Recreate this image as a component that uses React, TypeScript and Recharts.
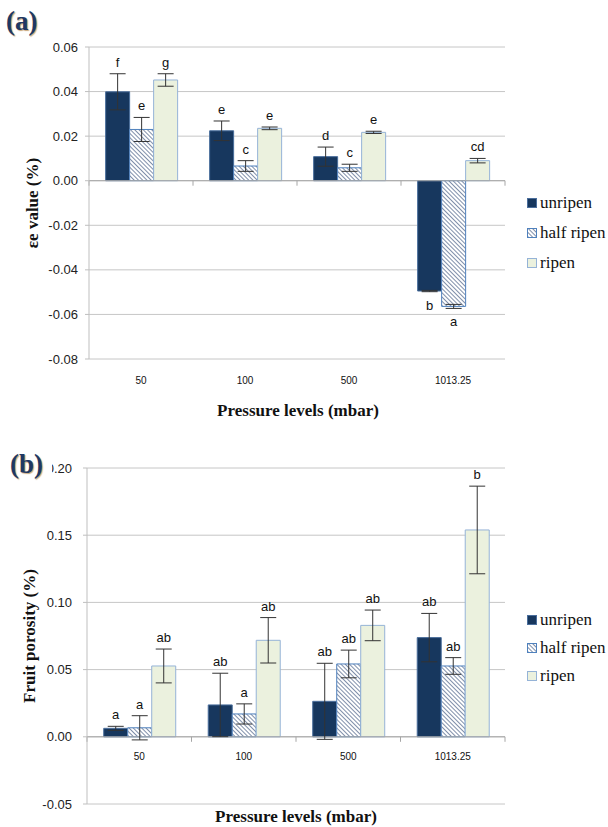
import { Bar, BarChart, CartesianGrid, ErrorBar, LabelList, ReferenceLine, XAxis, YAxis } from 'recharts';

const PRESSURES = ['50', '100', '500', '1013.25'];
const GROUPS = ['unripen', 'half ripen', 'ripen'];

// (a) εe value (%)
const STRAIN_UNRIPEN = [0.0399, 0.0224, 0.0108, -0.0495];
const STRAIN_UNRIPEN_ERR = [0.0081, 0.0044, 0.0043, 0.0003];
const STRAIN_UNRIPEN_TAGS = ['f', 'e', 'd', 'b'];
const STRAIN_HALF = [0.023, 0.0066, 0.0058, -0.0564];
const STRAIN_HALF_ERR = [0.0054, 0.0024, 0.0016, 0.0009];
const STRAIN_HALF_TAGS = ['e', 'c', 'c', 'a'];
const STRAIN_RIPEN = [0.0452, 0.0235, 0.0217, 0.009];
const STRAIN_RIPEN_ERR = [0.0028, 0.0006, 0.0005, 0.001];
const STRAIN_RIPEN_TAGS = ['g', 'e', 'e', 'cd'];
const STRAIN_TICKS = [-0.08, -0.06, -0.04, -0.02, 0, 0.02, 0.04, 0.06];

// (b) fruit porosity (%)
const POROSITY_UNRIPEN = [0.0063, 0.0237, 0.0264, 0.0738];
const POROSITY_UNRIPEN_ERR = [0.0015, 0.0236, 0.0283, 0.018];
const POROSITY_UNRIPEN_TAGS = ['a', 'ab', 'ab', 'ab'];
const POROSITY_HALF = [0.0067, 0.017, 0.0542, 0.0527];
const POROSITY_HALF_ERR = [0.009, 0.0075, 0.0103, 0.0062];
const POROSITY_HALF_TAGS = ['a', 'a', 'ab', 'ab'];
const POROSITY_RIPEN = [0.0527, 0.0718, 0.0829, 0.1539];
const POROSITY_RIPEN_ERR = [0.0126, 0.0169, 0.0114, 0.0326];
const POROSITY_RIPEN_TAGS = ['ab', 'ab', 'ab', 'b'];
const POROSITY_TICKS = [-0.05, 0, 0.05, 0.1, 0.15, 0.2];

const UNRIPEN_FILL = '#17375e';
const UNRIPEN_STROKE = '#4a6e9c';
const HALF_STROKE = '#4f81bd';
const RIPEN_FILL = '#ebf1de';
const RIPEN_STROKE = '#95b3d7';
const GRID = '#c6c6c6';
const SANS = '"Liberation Sans", Arial, sans-serif';
const SERIF = '"Liberation Serif", "Times New Roman", serif';

function buildRows(u: number[], ue: number[], h: number[], he: number[], r: number[], re: number[]) {
  return PRESSURES.map((p, i) => ({
    pressure: p,
    unripen: u[i],
    unripenErr: ue[i],
    half: h[i],
    halfErr: he[i],
    ripen: r[i],
    ripenErr: re[i]
  }));
}

const strainRows = buildRows(STRAIN_UNRIPEN, STRAIN_UNRIPEN_ERR, STRAIN_HALF, STRAIN_HALF_ERR, STRAIN_RIPEN, STRAIN_RIPEN_ERR);
const porosityRows = buildRows(
  POROSITY_UNRIPEN,
  POROSITY_UNRIPEN_ERR,
  POROSITY_HALF,
  POROSITY_HALF_ERR,
  POROSITY_RIPEN,
  POROSITY_RIPEN_ERR
);

// letter above the error bar (or below it for negative bars)
function tagRenderer(values: number[], errors: number[], tags: string[]) {
  return (props: any) => {
    const i = props.index;
    const vb = props.viewBox || props;
    const { x, y, width, height } = vb;
    const v = values[i];
    if (v === undefined) return null;
    const pxPerUnit = Math.abs(height) / Math.max(Math.abs(v), 1e-9);
    const errPx = errors[i] * pxPerUnit;
    const cx = x + width / 2;
    const top = Math.min(y, y + height);
    const bottom = Math.max(y, y + height);
    const ty = v >= 0 ? top - errPx - 7 : bottom + errPx + 18;
    return (
      <text x={cx} y={ty} textAnchor="middle" fontFamily={SANS} fontSize={13} fill="#111">
        {tags[i]}
      </text>
    );
  };
}

// zero line with Excel-style category tick marks
function zeroAxis(props: any) {
  const { x1, y1, x2 } = props;
  const step = (x2 - x1) / PRESSURES.length;
  return (
    <g>
      <line x1={x1} y1={y1} x2={x2} y2={y1} stroke="#a6a6a6" strokeWidth={1} />
      {[0, 1, 2, 3, 4].map((k) => (
        <line key={k} x1={x1 + k * step} y1={y1} x2={x1 + k * step} y2={y1 + 5} stroke="#a6a6a6" strokeWidth={1} />
      ))}
    </g>
  );
}

function categoryTick(shift: number) {
  return (props: any) => (
    <text x={props.x} y={props.y + shift} textAnchor="middle" fontFamily={SANS} fontSize={10} fill="#111">
      {props.payload.value}
    </text>
  );
}

function Swatch({ kind, patternId }: { kind: number; patternId: string }) {
  const fill = kind === 0 ? UNRIPEN_FILL : kind === 1 ? `url(#${patternId})` : RIPEN_FILL;
  const stroke = kind === 0 ? UNRIPEN_STROKE : kind === 1 ? HALF_STROKE : RIPEN_STROKE;
  return (
    <svg width={10} height={10} style={{ display: 'block' }}>
      <rect x={0.5} y={0.5} width={9} height={9} fill={fill} stroke={stroke} />
    </svg>
  );
}

function SeriesLegend({ patternId, gap, left, top }: { patternId: string; gap: number; left: number; top: number }) {
  return (
    <div style={{ position: 'absolute', left, top, fontFamily: SERIF, fontSize: 17, color: '#111' }}>
      {GROUPS.map((g, i) => (
        <div key={g} style={{ display: 'flex', alignItems: 'center', height: gap, gap: 3 }}>
          <Swatch kind={i} patternId={patternId} />
          <span style={{ whiteSpace: 'nowrap' }}>{g}</span>
        </div>
      ))}
    </div>
  );
}

function Hatch({ id }: { id: string }) {
  return (
    <defs>
      <pattern id={id} width={3} height={3} patternUnits="userSpaceOnUse" patternTransform="rotate(-45)">
        <rect width={3} height={3} fill="#ffffff" />
        <line x1={0} y1={0} x2={0} y2={3} stroke="#5f7394" strokeWidth={1.6} />
      </pattern>
    </defs>
  );
}

function groupedBars(patternId: string, tags: string[][], values: number[][][]) {
  return [
    <Bar key="u" dataKey="unripen" fill={UNRIPEN_FILL} stroke={UNRIPEN_STROKE} strokeWidth={1} isAnimationActive={false}>
      <ErrorBar dataKey="unripenErr" width={8} stroke="#333" strokeWidth={1} />
      <LabelList dataKey="unripen" content={tagRenderer(values[0][0], values[0][1], tags[0])} />
    </Bar>,
    <Bar key="h" dataKey="half" fill={`url(#${patternId})`} stroke={HALF_STROKE} strokeWidth={1} isAnimationActive={false}>
      <ErrorBar dataKey="halfErr" width={8} stroke="#333" strokeWidth={1} />
      <LabelList dataKey="half" content={tagRenderer(values[1][0], values[1][1], tags[1])} />
    </Bar>,
    <Bar key="r" dataKey="ripen" fill={RIPEN_FILL} stroke={RIPEN_STROKE} strokeWidth={1} isAnimationActive={false}>
      <ErrorBar dataKey="ripenErr" width={8} stroke="#333" strokeWidth={1} />
      <LabelList dataKey="ripen" content={tagRenderer(values[2][0], values[2][1], tags[2])} />
    </Bar>
  ];
}

const panelLabel = {
  position: 'absolute' as const,
  fontFamily: SERIF,
  fontWeight: 700,
  fontSize: 27,
  color: '#1f3864',
  textShadow: '1px 1px 1px #c9a77a',
  background: '#fff',
  lineHeight: '30px',
  paddingRight: 4
};

const axisTitle = {
  position: 'absolute' as const,
  fontFamily: SERIF,
  fontWeight: 700,
  fontSize: 17,
  color: '#111',
  whiteSpace: 'nowrap' as const
};

export default function App() {
  return (
    <div style={{ position: 'absolute', left: 0, top: 0, width: 608, height: 827, background: '#fff' }}>
      <div style={{ position: 'absolute', left: 0, top: 0 }}>
        <BarChart
          width={608}
          height={430}
          data={strainRows}
          margin={{ top: 47, right: 103, bottom: 31, left: 0 }}
          barCategoryGap="16%"
          barGap={0}
        >
          <Hatch id="hatchA" />
          <CartesianGrid vertical={false} stroke={GRID} />
          <XAxis
            dataKey="pressure"
            height={40}
            axisLine={false}
            tickLine={false}
            tickSize={0}
            tickMargin={0}
            tick={categoryTick(25)}
            interval={0}
          />
          <YAxis
            width={89}
            domain={[-0.08, 0.06]}
            ticks={STRAIN_TICKS}
            tickFormatter={(v) => Number(v).toFixed(2)}
            tick={{ fontFamily: SANS, fontSize: 13, fill: '#222' }}
            axisLine={{ stroke: '#bfbfbf' }}
            tickLine={{ stroke: '#bfbfbf' }}
            tickSize={4}
            tickMargin={7}
          />
          <ReferenceLine y={0} shape={zeroAxis} />
          {groupedBars('hatchA', [STRAIN_UNRIPEN_TAGS, STRAIN_HALF_TAGS, STRAIN_RIPEN_TAGS], [
            [STRAIN_UNRIPEN, STRAIN_UNRIPEN_ERR],
            [STRAIN_HALF, STRAIN_HALF_ERR],
            [STRAIN_RIPEN, STRAIN_RIPEN_ERR]
          ])}
        </BarChart>
      </div>
      <div style={{ position: 'absolute', left: 0, top: 430 }}>
        <BarChart
          width={608}
          height={397}
          data={porosityRows}
          margin={{ top: 38, right: 103, bottom: 3, left: 0 }}
          barCategoryGap="16%"
          barGap={0}
        >
          <Hatch id="hatchB" />
          <CartesianGrid vertical={false} stroke={GRID} />
          <XAxis
            dataKey="pressure"
            height={20}
            axisLine={false}
            tickLine={false}
            tickSize={0}
            tickMargin={0}
            tick={categoryTick(-67.2 + 23.5)}
            interval={0}
          />
          <YAxis
            width={87}
            domain={[-0.05, 0.2]}
            ticks={POROSITY_TICKS}
            tickFormatter={(v) => Number(v).toFixed(2)}
            tick={{ fontFamily: SANS, fontSize: 13, fill: '#222' }}
            axisLine={{ stroke: '#bfbfbf' }}
            tickLine={{ stroke: '#bfbfbf' }}
            tickSize={4}
            tickMargin={11}
          />
          <ReferenceLine y={0} shape={zeroAxis} />
          {groupedBars('hatchB', [POROSITY_UNRIPEN_TAGS, POROSITY_HALF_TAGS, POROSITY_RIPEN_TAGS], [
            [POROSITY_UNRIPEN, POROSITY_UNRIPEN_ERR],
            [POROSITY_HALF, POROSITY_HALF_ERR],
            [POROSITY_RIPEN, POROSITY_RIPEN_ERR]
          ])}
        </BarChart>
      </div>

      <SeriesLegend patternId="hatchA" gap={30} left={527} top={188} />
      <SeriesLegend patternId="hatchB" gap={28} left={527} top={606} />

      <div style={{ ...panelLabel, left: 6, top: 6 }}>(a)</div>
      <div style={{ ...panelLabel, left: 10, top: 449, paddingRight: 9 }}>(b)</div>

      <div style={{ ...axisTitle, left: 33, top: 203, transform: 'translate(-50%, -50%) rotate(-90deg)' }}>εe value (%)</div>
      <div style={{ ...axisTitle, left: 30, top: 636, transform: 'translate(-50%, -50%) rotate(-90deg)' }}>
        Fruit porosity (%)
      </div>
      <div style={{ ...axisTitle, left: 298, top: 411, transform: 'translate(-50%, -50%)' }}>Pressure levels (mbar)</div>
      <div style={{ ...axisTitle, left: 296, top: 817, transform: 'translate(-50%, -50%)' }}>Pressure levels (mbar)</div>
    </div>
  );
}
